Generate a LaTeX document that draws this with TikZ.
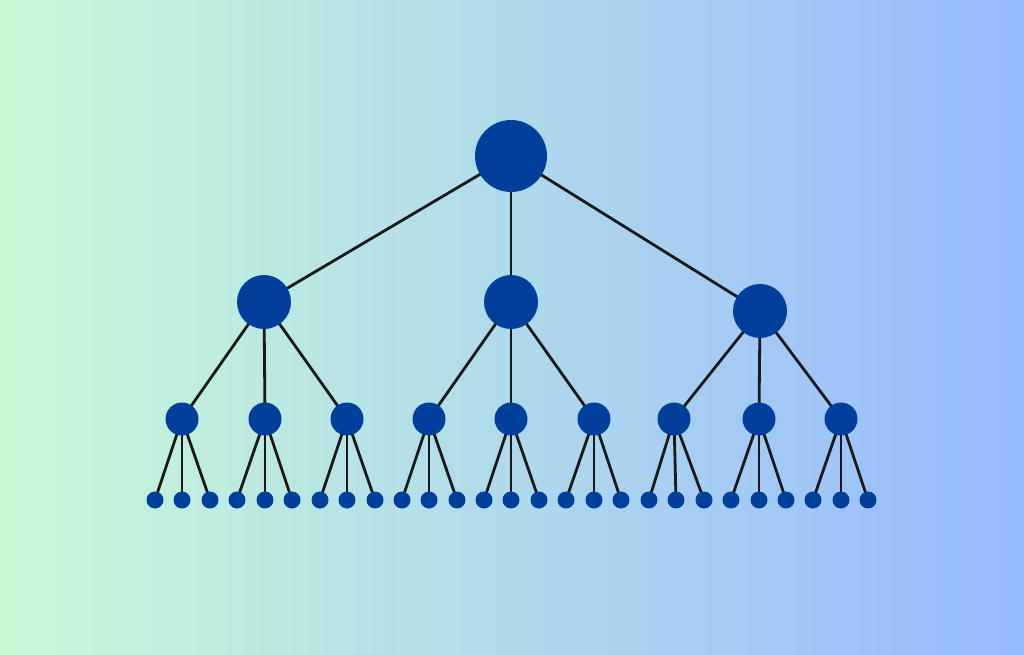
\documentclass[tikz,border=0pt]{standalone}
\definecolor{nodeblue}{RGB}{0,63,155}
\definecolor{bgleft}{RGB}{200,250,215}
\definecolor{bgright}{RGB}{150,185,255}
\tikzset{
  bignode/.style={circle,fill=nodeblue,inner sep=0pt,minimum size=72pt},
  midnode/.style={circle,fill=nodeblue,inner sep=0pt,minimum size=54pt},
  smallnode/.style={circle,fill=nodeblue,inner sep=0pt,minimum size=33pt},
  leafnode/.style={circle,fill=nodeblue,inner sep=0pt,minimum size=17pt},
  edge/.style={draw=black!90,line width=2.8pt}
}
\begin{document}
\begin{tikzpicture}[x=1pt,y=-1pt]
\shade[left color=bgleft,right color=bgright] (0,0) rectangle (1024,655);
\useasboundingbox (0,0) rectangle (1024,655);
\coordinate (r) at (511,156);
\coordinate (a1) at (264,302);
\coordinate (a2) at (511,302);
\coordinate (a3) at (760,311);
\foreach \i/\x in {1/182,2/265,3/347,4/429,5/511,6/594,7/674,8/759,9/841}{
  \coordinate (b\i) at (\x,419);
}
\foreach \i/\x in {1/155,2/182,3/210,4/237,5/265,6/292,7/320,8/347,9/375,10/402,11/429,12/457,13/484,14/511,15/539,16/566,17/594,18/621,19/649,20/676,21/704,22/731,23/759,24/786,25/813,26/841,27/868}{
  \coordinate (c\i) at (\x,500);
}
\foreach \a in {1,2,3}{ \draw[edge] (r) -- (a\a); }
\foreach \a/\b in {1/1,1/2,1/3,2/4,2/5,2/6,3/7,3/8,3/9}{ \draw[edge] (a\a) -- (b\b); }
\foreach \b in {1,...,9}{
  \foreach \k in {0,1,2}{
    \pgfmathtruncatemacro{\c}{3*(\b-1)+\k+1}
    \draw[edge] (b\b) -- (c\c);
  }
}
\node[bignode] (R) at (r) {};
\foreach \a in {1,2,3}{ \node[midnode] (A\a) at (a\a) {}; }
\foreach \b in {1,...,9}{ \node[smallnode] (B\b) at (b\b) {}; }
\foreach \c in {1,...,27}{ \node[leafnode] (C\c) at (c\c) {}; }
\end{tikzpicture}
\end{document}
